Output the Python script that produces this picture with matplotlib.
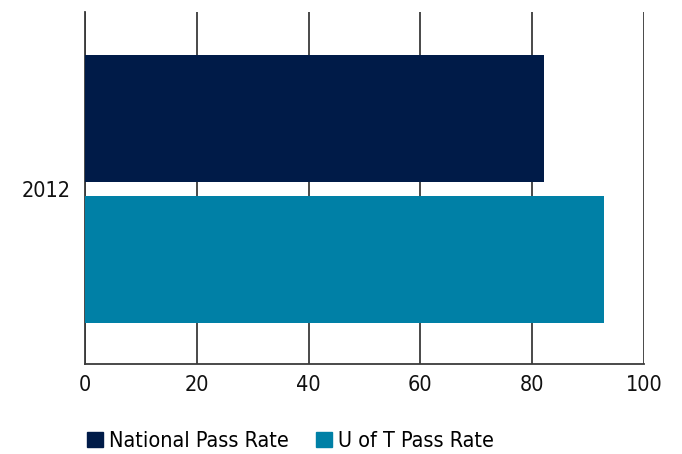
import matplotlib.pyplot as plt
import matplotlib.patches as mpatches
import numpy as np

# data
categories = ["2012"]
series_names = ["National Pass Rate", "U of T Pass Rate"]
national_rate = [82.1]
uoft_rate = [92.8]
x_ticks = [0, 20, 40, 60, 80, 100]

navy = "#001b48"
teal = "#0080a6"
grid_col = "#3a3a3a"

# narrow face, closest to the condensed gothic of the original
plt.rcParams['font.family'] = ['DejaVu Sans']
plt.rcParams['font.stretch'] = 'condensed'

fig = plt.figure(figsize=(6.82, 4.54), dpi=100)
ax = fig.add_axes([85 / 682, 1 - 364 / 454, (644 - 85) / 682, (364 - 12) / 454])

y = np.arange(len(categories))
h = 0.9
ax.barh(y + 0.5, national_rate, height=h, color=navy, zorder=3)
ax.barh(y - 0.5, uoft_rate, height=h, color=teal, zorder=3)

ax.set_xlim(0, 100)
ax.set_ylim(-1.241, 1.255)
ax.set_xticks(x_ticks)
ax.set_xticklabels([str(t) for t in x_ticks])
ax.set_yticks(y)
ax.set_yticklabels(categories)
ax.tick_params(axis='both', length=0, labelsize=15.5, colors='#111111')
ax.tick_params(axis='x', pad=8)
ax.tick_params(axis='y', pad=10)

ax.xaxis.grid(True, color=grid_col, linewidth=1.3, zorder=0)
ax.yaxis.grid(False)
for s in ['top', 'right']:
    ax.spines[s].set_visible(False)
for s in ['left', 'bottom']:
    ax.spines[s].set_color(grid_col)
    ax.spines[s].set_linewidth(1.3)

handles = [mpatches.Patch(color=navy, label=series_names[0]),
           mpatches.Patch(color=teal, label=series_names[1])]
fig.legend(handles=handles, loc='center left', bbox_to_anchor=(87 / 682, 1 - 441 / 454),
           ncol=2, frameon=False, fontsize=15.5, handlelength=0.75, handleheight=0.75,
           handletextpad=0.25, columnspacing=1.3, borderaxespad=0, borderpad=0)

fig.savefig("out.png", dpi=100)
